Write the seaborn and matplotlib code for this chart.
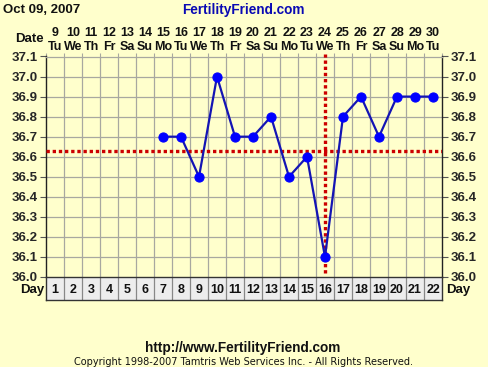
import matplotlib
matplotlib.use("Agg")
import matplotlib.pyplot as plt
import matplotlib.transforms as mtransforms
import seaborn as sns
import pandas as pd
import numpy as np

# ---- data ----
dates = [9, 10, 11, 12, 13, 14, 15, 16, 17, 18, 19, 20, 21, 22, 23, 24, 25, 26, 27, 28, 29, 30]
weekdays = ["Tu", "We", "Th", "Fr", "Sa", "Su", "Mo", "Tu", "We", "Th", "Fr", "Sa", "Su", "Mo",
            "Tu", "We", "Th", "Fr", "Sa", "Su", "Mo", "Tu"]
cycle_days = list(range(1, 23))
temp_days = [7, 8, 9, 10, 11, 12, 13, 14, 15, 16, 17, 18, 19, 20, 21, 22]
temps = [36.7, 36.7, 36.5, 37.0, 36.7, 36.7, 36.8, 36.5, 36.6, 36.1, 36.8, 36.9, 36.7, 36.9, 36.9, 36.9]
y_ticks = [36.0, 36.1, 36.2, 36.3, 36.4, 36.5, 36.6, 36.7, 36.8, 36.9, 37.0, 37.1]
coverline = 36.63
ovulation_day = 16

sns.set_theme(style="white")
plt.rcParams['font.family'] = ['Liberation Sans', 'DejaVu Sans']

BG = "#FFFFCC"
GRID = "#A8A8A0"
TXT = "#111111"
FS = 9
fig = plt.figure(figsize=(4.88, 3.67), dpi=100, facecolor=BG)

W, H = 488.0, 367.0
def fx(px): return px / W
def fy(py): return 1 - py / H

x0, x1 = 46, 442
ytop, ybot = 56.5, 277
ax = fig.add_axes([fx(x0), fy(ybot), fx(x1 - x0), (ybot - ytop) / H])
ax.set_facecolor(BG)

df = pd.DataFrame({"day": temp_days, "temp": temps})
sns.lineplot(data=df, x="day", y="temp", ax=ax, color="#1414B4", linewidth=1.6,
             marker="o", markersize=6.6, markerfacecolor="#0000FF",
             markeredgecolor="#0000FF", zorder=5)

ax.set_xlim(0.5, 22.5)
ax.set_ylim(36.0, 37.1)

# grid
for b in np.arange(1.5, 22.5, 1):
    ax.axvline(b, color=GRID, lw=0.9, zorder=1)
for yv in y_ticks[1:-1]:
    ax.axhline(yv, color=GRID, lw=0.9, zorder=1)

ax.set_yticks(y_ticks)
ax.set_yticklabels([f"{v:.1f}" for v in y_ticks])
ax.tick_params(axis="y", left=True, right=True, labelleft=True, labelright=True,
               length=4, width=0.8, color="#555555", pad=2, labelsize=9.5)
for lab in ax.get_yticklabels():
    lab.set_fontweight("bold")
ax.set_xticks(np.arange(0.5, 23, 1))
ax.set_xticklabels([])
ax.tick_params(axis="x", bottom=False, top=True, length=3, width=0.8, color=GRID)
ax.set_xlabel("")
ax.set_ylabel("")

for s in ["left", "right"]:
    ax.spines[s].set_color("#222222")
    ax.spines[s].set_linewidth(1.0)
ax.spines["top"].set_color(GRID)
ax.spines["top"].set_linewidth(0.9)
ax.spines["bottom"].set_visible(False)

# coverline and ovulation line
ax.axhline(coverline, color="#CC0000", lw=2.4, ls=(0, (1.0, 0.85)), zorder=3)
ax.plot([ovulation_day, ovulation_day], [36.02, 37.11], color="#CC0000", lw=2.4,
        ls=(0, (1.0, 0.85)), zorder=3, clip_on=False)

# date labels above
tr = mtransforms.blended_transform_factory(ax.transData, fig.transFigure)
for d, dt, wd in zip(cycle_days, dates, weekdays):
    ax.text(d, fy(33.5), str(dt), transform=tr, ha="center", va="center",
            fontsize=FS, fontweight="bold", color=TXT)
    ax.text(d, fy(46.5), wd, transform=tr, ha="center", va="center",
            fontsize=FS, fontweight="bold", color=TXT)
fig.text(fx(29), fy(39.5), "Date", ha="center", va="center", fontsize=9.5,
         fontweight="bold", color=TXT)

# day row
ax2 = fig.add_axes([fx(x0), fy(300), fx(x1 - x0), 23 / H])
ax2.set_facecolor("#EDEDED")
ax2.set_xlim(0.5, 22.5)
ax2.set_ylim(0, 1)
ax2.set_xticks([])
ax2.set_yticks([])
for b in np.arange(1.5, 22.5, 1):
    ax2.axvline(b, color="#888888", lw=0.9)
for s in ax2.spines.values():
    s.set_color("#333333")
    s.set_linewidth(1.0)
for d in cycle_days:
    ax2.text(d, 0.45, str(d), ha="center", va="center", fontsize=FS,
             fontweight="bold", color=TXT)
fig.text(fx(44), fy(290.5), "Day", ha="right", va="center", fontsize=9.5,
         fontweight="bold", color=TXT)
fig.text(fx(446), fy(290.5), "Day", ha="left", va="center", fontsize=9.5,
         fontweight="bold", color=TXT)

# header / footer
fig.text(fx(3), fy(10), "Oct 09, 2007", ha="left", va="center", fontsize=9.5,
         fontweight="bold", color=TXT)
fig.text(fx(243), fy(10), "FertilityFriend.com", ha="center", va="center", fontsize=9.8,
         fontweight="bold", color="#0A0AB4")
fig.text(fx(243), fy(348), "http://www.FertilityFriend.com", ha="center", va="center",
         fontsize=9.8, fontweight="bold", color=TXT)
fig.text(fx(243), fy(362), "Copyright 1998-2007 Tamtris Web Services Inc. - All Rights Reserved.",
         ha="center", va="center", fontsize=7, color=TXT, family=["DejaVu Sans"])

fig.savefig("out.png", dpi=100, facecolor=BG)
